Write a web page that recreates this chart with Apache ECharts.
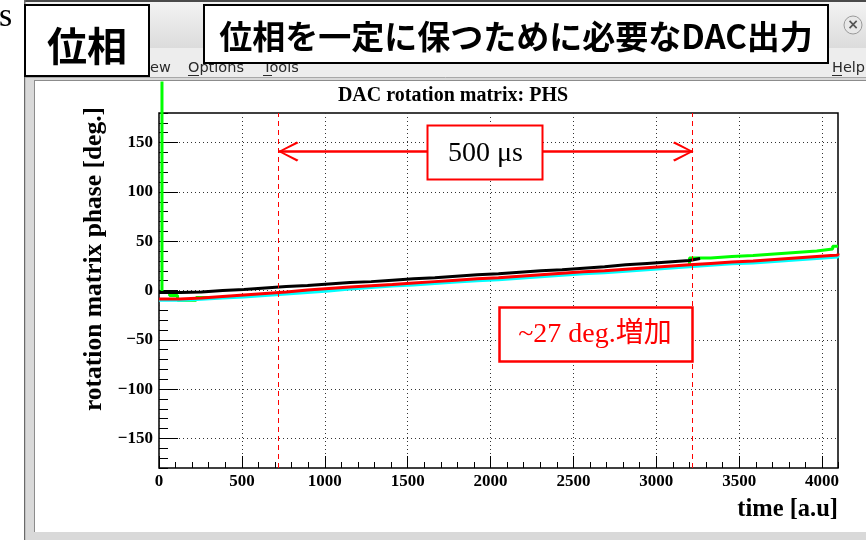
<!DOCTYPE html>
<html><head><meta charset="utf-8">
<script src="https://cdn.jsdelivr.net/npm/echarts@6/dist/echarts.min.js"></script>
<style>html,body{margin:0;padding:0;background:#fff}#c{width:866px;height:540px}</style>
</head><body><div id="c"></div>
<script>
// ---------- data ----------
const stepTimes = [0,128,256,384,512,640,768,896,1024,1152,1280,1408,1536,1664,1792,1920,2048,2176,2304,2432,2560,2688,2816,2944,3072,3200,3328,3456,3584,3712,3840,3968,4096];
const redPhase  = [-8.5,-7.5,-6,-4.5,-3,-1.5,0.5,2,3.5,4.8,6,7.5,9,10.5,12,13,14.5,16,17.5,19,20,21.5,23,24.5,26,27.5,29,30,31.5,33,34.5,36,37.5];
const cyanPhase = [-10,-9,-7.5,-6.5,-5,-3.5,-2,-0.5,1.5,3,4.5,5.5,7,8.5,10,11,12.5,14,15.5,17,18,19.5,21,22.5,24,25.5,27,28,29.5,31,32.5,34,35.5];
const blackPhase = [-2,-1.5,0,1,2.5,4,5,6.5,8,9,10.5,12,13,14.5,16,17,18.5,20,21,22.5,24,26,27.5,29,30.5,32.5];
const blackEndTime = 3264;
const greenTimes = [18,18,64,112,224,384,512,640,768,896,1024,1152,1280,1408,1536,1664,1792,1920,2048,2176,2304,2432,2560,2688,2816,2944,3072,3200,3328,3456,3584,3712,3840,3968,4064,4096];
const greenPhase = [212,-2,-5,-10,-7,-5.5,-4,-2.5,-1,0.5,2.5,4,5.5,6.5,8,9.5,11,12,13.5,15,16.5,18,19,20.5,22,23.5,25,33,34.5,35.5,37,38.5,40,42,45,45];
const xMajorTicks = [0,500,1000,1500,2000,2500,3000,3500,4000];
const yMajorTicks = [-150,-100,-50,0,50,100,150];
const markerTimes = [721, 3218];
const arrowTimes = [722, 3220];
const arrowPhase = 141;

// ---------- build ----------
const serif = '"Liberation Serif", "Times New Roman", serif';
const cjk = '"Noto Sans CJK JP", "Noto Sans CJK SC", sans-serif';
const ui = '"DejaVu Sans", sans-serif';
function pairs(xs, ys) { return ys.map((y, i) => [xs[i], y]); }
const blackData = pairs(stepTimes, blackPhase).concat([[blackEndTime, blackPhase[blackPhase.length - 1]]]);
const chevron = 'path://M10,-19L10.01,-19L10,-18.99Z M10,0L20,19L18.2,20.6L10,3.6L1.8,20.6L0,19Z';

const chart = echarts.init(document.getElementById('c'));
const tickLine = { color: '#000', width: 1 };
const labelFont = { fontFamily: serif, fontWeight: 'bold', fontSize: 17, color: '#000' };
const dotted = { color: '#333', width: 1, type: [1, 3] };
const plainNum = v => String(v).replace('-', '\u2212');

const back = -20, front = 100;
const graphic = [
  { type: 'text', z: back, style: { x: -1, y: 17, text: 's', font: '34px ' + serif, fill: '#000', textVerticalAlign: 'middle' } },
  { type: 'rect', z: back, shape: { x: 24, y: 0, width: 842, height: 540 }, style: { fill: '#e6e6e6' } },
  { type: 'rect', z: back, shape: { x: 25, y: 2, width: 841, height: 46 }, style: { fill: new echarts.graphic.LinearGradient(0, 0, 0, 1, [{ offset: 0, color: '#f3f3f3' }, { offset: 1, color: '#dcdcdc' }]) } },
  { type: 'rect', z: back, shape: { x: 24, y: 0, width: 842, height: 2 }, style: { fill: '#4a4a4a' } },
  { type: 'rect', z: back, shape: { x: 24, y: 0, width: 1.5, height: 540 }, style: { fill: '#6a6a6a' } },
  { type: 'rect', z: back, shape: { x: 25.5, y: 48, width: 841, height: 29 }, style: { fill: '#ededed' } },
  { type: 'line', z: back, shape: { x1: 25, y1: 77.5, x2: 866, y2: 77.5 }, style: { stroke: '#a8a8a8', lineWidth: 1 } },
  { type: 'rect', z: back, shape: { x: 25.5, y: 78, width: 841, height: 462 }, style: { fill: '#d9d9d9' } },
  { type: 'rect', z: back, shape: { x: 35, y: 81, width: 831, height: 451 }, style: { fill: '#ffffff' } },
  { type: 'line', z: back, shape: { x1: 34.5, y1: 80, x2: 34.5, y2: 532 }, style: { stroke: '#8c8c8c', lineWidth: 1 } },
  { type: 'line', z: back, shape: { x1: 34, y1: 80.5, x2: 866, y2: 80.5 }, style: { stroke: '#8c8c8c', lineWidth: 1 } },
  { type: 'circle', z: back, shape: { cx: 853, cy: 25, r: 9 }, style: { fill: '#e8e8e8', stroke: '#9a9a9a', lineWidth: 1 } },
  { type: 'text', z: back, style: { x: 853, y: 25, text: '×', font: 'bold 14px ' + ui, fill: '#555', textAlign: 'center', textVerticalAlign: 'middle' } },
  { type: 'text', z: back, style: { x: 150, y: 68, text: 'ew', font: '14.5px ' + ui, fill: '#2a2a2a', textVerticalAlign: 'middle' } },
  { type: 'text', z: back, style: { x: 188, y: 68, text: 'Options', font: '14.5px ' + ui, fill: '#2a2a2a', textVerticalAlign: 'middle' } },
  { type: 'text', z: back, style: { x: 263, y: 68, text: 'Tools', font: '14.5px ' + ui, fill: '#2a2a2a', textVerticalAlign: 'middle' } },
  { type: 'text', z: back, style: { x: 832, y: 68, text: 'Help', font: '14.5px ' + ui, fill: '#2a2a2a', textVerticalAlign: 'middle' } },
  { type: 'line', z: back, shape: { x1: 188, y1: 75.5, x2: 199, y2: 75.5 }, style: { stroke: '#2a2a2a', lineWidth: 1 } },
  { type: 'line', z: back, shape: { x1: 263, y1: 75.5, x2: 272, y2: 75.5 }, style: { stroke: '#2a2a2a', lineWidth: 1 } },
  { type: 'line', z: back, shape: { x1: 832, y1: 75.5, x2: 842, y2: 75.5 }, style: { stroke: '#2a2a2a', lineWidth: 1 } },
  // slide overlays
  { type: 'rect', z: front, shape: { x: 25, y: 5, width: 124, height: 71 }, style: { fill: '#fff', stroke: '#000', lineWidth: 2 } },
  { type: 'text', z: front, style: { x: 87, y: 46, text: '位相', font: 'bold 40px ' + cjk, fill: '#000', textAlign: 'center', textVerticalAlign: 'middle', shadowColor: 'rgba(0,0,0,0.45)', shadowBlur: 2, shadowOffsetX: 2, shadowOffsetY: 2 } },
  { type: 'rect', z: front, shape: { x: 204, y: 5, width: 624, height: 58 }, style: { fill: '#fff', stroke: '#000', lineWidth: 2 } },
  { type: 'text', z: front, style: { x: 516, y: 36, text: '位相を一定に保つために必要なDAC出力', font: 'bold 33px ' + cjk, fill: '#000', textAlign: 'center', textVerticalAlign: 'middle', shadowColor: 'rgba(0,0,0,0.45)', shadowBlur: 2, shadowOffsetX: 2, shadowOffsetY: 2 } },
  { type: 'rect', z: front, shape: { x: 427.5, y: 125.5, width: 115, height: 54 }, style: { fill: '#fff', stroke: '#ff0000', lineWidth: 2 } },
  { type: 'text', z: front, style: { x: 485.5, y: 154, text: '500 μs', font: '28px ' + serif, fill: '#000', textAlign: 'center', textVerticalAlign: 'middle' } },
  { type: 'rect', z: front, shape: { x: 499.5, y: 307.5, width: 193, height: 54 }, style: { fill: '#fff', stroke: '#ff0000', lineWidth: 2.5 } },
  { type: 'text', z: front, style: { x: 595, y: 335, text: '~27 deg.増加', font: '28px ' + serif + ', ' + cjk, fill: '#ff0000', textAlign: 'center', textVerticalAlign: 'middle' } }
];

const option = {
  animation: false,
  backgroundColor: '#ffffff',
  title: { text: 'DAC rotation matrix: PHS', left: 453, top: 86, padding: 0, textAlign: 'center',
    textStyle: { fontFamily: serif, fontWeight: 'bold', fontSize: 20, color: '#000' } },
  grid: { left: 159, top: 113, width: 679, height: 355, show: true, borderColor: '#000', borderWidth: 1.5, backgroundColor: 'transparent' },
  xAxis: [
    { type: 'value', position: 'bottom', min: 0, max: 4096, interval: 100,
      axisLine: { show: false, onZero: false }, axisTick: { show: true, inside: true, length: 6, lineStyle: tickLine },
      axisLabel: { show: false }, splitLine: { show: false } },
    { type: 'value', position: 'bottom', min: 0, max: 4096,
      axisLine: { show: false, onZero: false },
      axisTick: { show: true, inside: true, length: 12, customValues: xMajorTicks, lineStyle: tickLine },
      axisLabel: Object.assign({ customValues: xMajorTicks, margin: 5, formatter: plainNum }, labelFont),
      splitLine: { show: true, lineStyle: dotted },
      name: 'time [a.u]', nameLocation: 'end', nameGap: 0,
      nameTextStyle: { fontFamily: serif, fontWeight: 'bold', fontSize: 24.5, color: '#000', align: 'right', verticalAlign: 'top', padding: [29, 0, 0, 0] } }
  ],
  yAxis: [
    { type: 'value', position: 'left', min: -180, max: 180, interval: 10,
      axisLine: { show: false, onZero: false }, axisTick: { show: true, inside: true, length: 9, lineStyle: tickLine },
      axisLabel: { show: false }, splitLine: { show: false } },
    { type: 'value', position: 'left', min: -180, max: 180,
      axisLine: { show: false, onZero: false },
      axisTick: { show: true, inside: true, length: 19, customValues: yMajorTicks, lineStyle: tickLine },
      axisLabel: Object.assign({ customValues: yMajorTicks, margin: 6, formatter: plainNum }, labelFont),
      splitLine: { show: true, lineStyle: dotted },
      name: 'rotation matrix phase [deg.]', nameLocation: 'middle', nameGap: 48, nameRotate: 90,
      nameTextStyle: { fontFamily: serif, fontWeight: 'bold', fontSize: 25.5, color: '#000', padding: [0, 0, 0, 63] } }
  ],
  series: [
    { name: 'green', type: 'line', xAxisIndex: 1, yAxisIndex: 1, step: 'end', symbol: 'none', clip: false, silent: true,
      data: pairs(greenTimes, greenPhase), lineStyle: { color: '#00ff00', width: 3 } },
    { name: 'cyan', type: 'line', xAxisIndex: 1, yAxisIndex: 1, step: 'end', symbol: 'none', silent: true,
      data: pairs(stepTimes, cyanPhase), lineStyle: { color: '#00ffff', width: 3 } },
    { name: 'red', type: 'line', xAxisIndex: 1, yAxisIndex: 1, step: 'end', symbol: 'none', silent: true,
      data: pairs(stepTimes, redPhase), lineStyle: { color: '#ff0000', width: 3 },
      markLine: { silent: true, symbol: [chevron, chevron], symbolSize: [20, 39.6], label: { show: false },
        lineStyle: { color: '#ff0000', width: 2.5, type: 'solid' },
        data: [[{ coord: [arrowTimes[0], arrowPhase] }, { coord: [arrowTimes[1], arrowPhase] }]] } },
    { name: 'black', type: 'line', xAxisIndex: 1, yAxisIndex: 1, step: 'end', symbol: 'none', silent: true,
      data: blackData, lineStyle: { color: '#000000', width: 3 },
      markLine: { silent: true, symbol: ['none', 'none'], label: { show: false },
        lineStyle: { color: '#ff0000', width: 1, type: [5, 4] },
        emphasis: { disabled: true },
        data: markerTimes.map(t => ({ xAxis: t, lineStyle: { color: '#ff0000' } })) } }
  ],
  graphic: graphic
};
chart.setOption(option);
</script>
</body></html>
